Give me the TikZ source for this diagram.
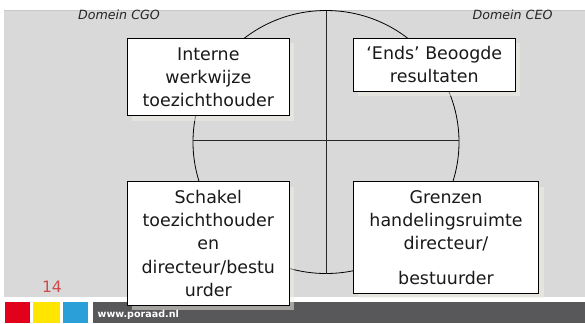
\documentclass[tikz,border=0pt]{standalone}
\usepackage{fontspec}
\setmainfont{DejaVu Sans}
\setsansfont{DejaVu Sans}
\definecolor{bggray}{RGB}{217,217,217}
\definecolor{bgtop}{RGB}{200,200,200}
\definecolor{shadowc}{RGB}{242,240,230}
\definecolor{barred}{RGB}{226,0,26}
\definecolor{baryellow}{RGB}{255,229,0}
\definecolor{barblue}{RGB}{42,159,216}
\definecolor{bardark}{RGB}{88,88,90}
\definecolor{numred}{RGB}{204,76,76}
\definecolor{linec}{RGB}{40,40,40}
\tikzset{
  textbox/.style={draw=black, line width=0.8bp, fill=white, inner sep=0pt, align=center,
    font=\fontsize{17.5}{23.3}\selectfont, text=black!90},
  boxshadow/.style={fill=shadowc, fill opacity=0.5, draw=none},
  domainlabel/.style={font=\fontsize{12.7}{14}\selectfont\itshape, text=black!85, inner sep=0pt},
  guide/.style={draw=linec, line width=0.9bp}
}
\begin{document}
\begin{tikzpicture}[x=1bp,y=-1bp]
\useasboundingbox (0,0) rectangle (585,323);
\fill[white] (0,0) rectangle (585,323);
% background panel
\fill[bggray] (4,10) rectangle (585,297);
\draw[bgtop, line width=0.8bp] (4,10) -- (585,10);
% circle and axes
\coordinate (c) at (326,142);
\draw[guide, line width=0.8bp, draw=black] (c) ellipse [x radius=133, y radius=131.5];
\coordinate (vt) at (326,10.5);
\coordinate (vb) at (326,273.5);
\coordinate (hl) at (193,140);
\coordinate (hr) at (459,140);
\draw[guide] (vt) -- (vb);
\draw[guide] (hl) -- (hr);
% domain labels
\node[domainlabel] (cgo) at (119,15) {Domein CGO};
\node[domainlabel] (ceo) at (512.5,15) {Domein CEO};
% bottom bar
\fill[barred] (5,302) rectangle (30,323);
\fill[baryellow] (33,302) rectangle (60,323);
\fill[barblue] (63,302) rectangle (88,323);
\fill[bardark] (93,302) rectangle (585,323);
\node[font=\fontsize{9.6}{11}\selectfont\bfseries, text=white, anchor=west, inner sep=0pt] (url) at (97.5,315) {www.poraad.nl};
\node[font=\fontsize{15.7}{18}\selectfont, text=numred, inner sep=0pt] (num) at (52,287) {14};
% shadows
\fill[boxshadow] (132.3,43.3) rectangle (294.3,120.7);
\fill[boxshadow] (358.3,43.3) rectangle (520.3,96.3);
\fill[boxshadow] (132.3,186.7) rectangle (294.3,310);
\fill[boxshadow] (358.3,186.7) rectangle (543.7,298.3);
% boxes
\node[textbox, minimum width=162bp, minimum height=77.4bp] (b1) at (208.3,77)
  {Interne\\werkwijze\\toezichthouder};
\node[textbox, minimum width=162bp, minimum height=53bp] (b2) at (434.3,64.8)
  {‘Ends’ Beoogde\\resultaten};
\node[textbox, minimum width=162bp, minimum height=123.3bp] (b3) at (208.3,243.35)
  {Schakel\\toezichthouder\\en\\directeur/bestu\\urder};
\node[textbox, minimum width=185.4bp, minimum height=111.6bp] (b4) at (446,237.5)
  {Grenzen\\handelingsruimte\\directeur/\\[11bp]bestuurder};
\end{tikzpicture}
\end{document}
